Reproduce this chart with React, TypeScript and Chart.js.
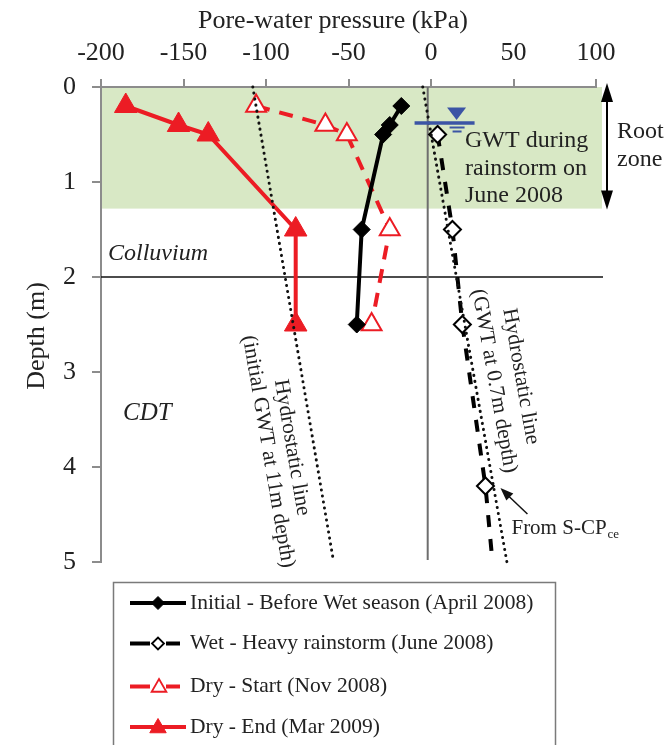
import React, { useEffect, useRef } from "react";
import { Chart, registerables } from "chart.js";

Chart.register(...registerables);

const FONT = "'Liberation Serif', 'Times New Roman', serif";
const TEXT = "#222";
const AXIS = "#8c8c8c";
const RED = "#ec1c24";
const BLUE = "#3b54a5";
const GREEN = "#d8e8c5";

// Axis ticks
const pressureTicks = [-200, -150, -100, -50, 0, 50, 100];
const depthTicks = [0, 1, 2, 3, 4, 5];

// Measured pore-water pressure profiles (kPa) against depth (m)
const initialDepth = [0.2, 0.4, 0.5, 1.5, 2.5];
const initialPwp = [-18, -25, -29, -42, -45];

const wetDepth = [0.5, 1.5, 2.5, 4.2, 4.95];
const wetPwp = [4, 13, 19, 33, 37];

const dryStartDepth = [0.2, 0.4, 0.5, 1.5, 2.5];
const dryStartPwp = [-106, -64, -51, -25, -36];

const dryEndDepth = [0.2, 0.4, 0.5, 1.5, 2.5];
const dryEndPwp = [-185, -153, -135, -82, -82];

// Hydrostatic reference lines
const hydroInitialDepth = [0, 5];
const hydroInitialPwp = [-108, -59];
const hydroWetDepth = [0, 5];
const hydroWetPwp = [-5, 46];

// Soil profile
const rootZoneBottom = 1.28;
const colluviumBase = 2;
const zeroLineKpa = -2;
const gwtKpa = 15.5;
const gwtDepth = 0.38;

const legendLabels = [
  "Initial - Before Wet season (April 2008)",
  "Wet - Heavy rainstorm (June 2008)",
  "Dry - Start (Nov 2008)",
  "Dry - End (Mar 2009)",
];

const pts = (xs: number[], ys: number[]) => xs.map((x, i) => ({ x, y: ys[i] }));

function diamond(ctx: CanvasRenderingContext2D, x: number, y: number, r: number, fill: string, stroke: string, lw: number) {
  ctx.beginPath();
  ctx.moveTo(x - r, y);
  ctx.lineTo(x, y - r);
  ctx.lineTo(x + r, y);
  ctx.lineTo(x, y + r);
  ctx.closePath();
  ctx.fillStyle = fill;
  ctx.fill();
  ctx.lineWidth = lw;
  ctx.strokeStyle = stroke;
  ctx.setLineDash([]);
  ctx.stroke();
}

function triangle(ctx: CanvasRenderingContext2D, x: number, y: number, r: number, fill: string, stroke: string, lw: number) {
  ctx.beginPath();
  for (let k = 0; k < 3; k++) {
    const a = (k * 2 * Math.PI) / 3;
    const px = x + Math.sin(a) * r;
    const py = y - Math.cos(a) * r;
    if (k === 0) ctx.moveTo(px, py);
    else ctx.lineTo(px, py);
  }
  ctx.closePath();
  ctx.fillStyle = fill;
  ctx.fill();
  ctx.lineWidth = lw;
  ctx.strokeStyle = stroke;
  ctx.setLineDash([]);
  ctx.stroke();
}

function arrowHead(ctx: CanvasRenderingContext2D, tipX: number, tipY: number, fromX: number, fromY: number, len: number, half: number) {
  const a = Math.atan2(tipY - fromY, tipX - fromX);
  ctx.beginPath();
  ctx.moveTo(tipX, tipY);
  ctx.lineTo(tipX - len * Math.cos(a) + half * Math.sin(a), tipY - len * Math.sin(a) - half * Math.cos(a));
  ctx.lineTo(tipX - len * Math.cos(a) - half * Math.sin(a), tipY - len * Math.sin(a) + half * Math.cos(a));
  ctx.closePath();
  ctx.fill();
}

const decorPlugin = {
  id: "profileDecor",
  beforeDraw(chart: any) {
    const { ctx, chartArea: ca, scales } = chart;
    const yTop = scales.y.getPixelForValue(0);
    const yRoot = scales.y.getPixelForValue(rootZoneBottom);
    ctx.save();
    ctx.fillStyle = GREEN;
    ctx.fillRect(ca.left, yTop, ca.right - ca.left + 6, yRoot - yTop);
    ctx.restore();
  },
  beforeDatasetsDraw(chart: any) {
    const { ctx, chartArea: ca, scales } = chart;
    ctx.save();
    // colluvium / CDT boundary
    const yB = scales.y.getPixelForValue(colluviumBase);
    ctx.strokeStyle = "#111";
    ctx.lineWidth = 1.5;
    ctx.beginPath();
    ctx.moveTo(ca.left, yB);
    ctx.lineTo(ca.right + 7, yB);
    ctx.stroke();
    // zero-pressure line
    const x0 = scales.x.getPixelForValue(zeroLineKpa);
    ctx.strokeStyle = "#6e6e6e";
    ctx.lineWidth = 2;
    ctx.beginPath();
    ctx.moveTo(x0, ca.top);
    ctx.lineTo(x0, ca.bottom - 2);
    ctx.stroke();
    ctx.restore();
  },
  afterDraw(chart: any) {
    const { ctx, chartArea: ca, scales } = chart;
    const sx = scales.x;
    const sy = scales.y;
    ctx.save();
    ctx.fillStyle = TEXT;
    ctx.textBaseline = "alphabetic";

    // axis titles
    ctx.font = `26px ${FONT}`;
    ctx.textAlign = "left";
    ctx.fillText("Pore-water pressure (kPa)", 198, 28);
    ctx.save();
    ctx.translate(44, 336);
    ctx.rotate(-Math.PI / 2);
    ctx.textAlign = "center";
    ctx.fillText("Depth (m)", 0, 0);
    ctx.restore();

    // layer names
    ctx.font = `italic 24px ${FONT}`;
    ctx.textAlign = "left";
    ctx.textBaseline = "middle";
    ctx.fillText("Colluvium", 108, 254);
    ctx.font = `italic 25px ${FONT}`;
    ctx.fillText("CDT", 123, 413);

    // groundwater table symbol
    const gx = sx.getPixelForValue(gwtKpa);
    const gy = sy.getPixelForValue(gwtDepth);
    ctx.fillStyle = BLUE;
    ctx.strokeStyle = BLUE;
    ctx.beginPath();
    ctx.moveTo(gx - 9.5, gy - 15.5);
    ctx.lineTo(gx + 9.5, gy - 15.5);
    ctx.lineTo(gx, gy - 3);
    ctx.closePath();
    ctx.fill();
    ctx.lineWidth = 3.5;
    ctx.beginPath();
    ctx.moveTo(gx - 42, gy);
    ctx.lineTo(gx + 18, gy);
    ctx.stroke();
    ctx.lineWidth = 2;
    ctx.beginPath();
    ctx.moveTo(gx - 7, gy + 4.5);
    ctx.lineTo(gx + 8, gy + 4.5);
    ctx.moveTo(gx - 4, gy + 8.5);
    ctx.lineTo(gx + 5, gy + 8.5);
    ctx.stroke();

    ctx.fillStyle = TEXT;
    ctx.font = `24px ${FONT}`;
    ctx.textAlign = "left";
    ctx.textBaseline = "middle";
    ctx.fillText("GWT during", 465, 141);
    ctx.fillText("rainstorm on", 465, 168.5);
    ctx.fillText("June 2008", 465, 196);

    // root zone extent
    const ax = ca.right + 11;
    const aTop = sy.getPixelForValue(0) - 4;
    const aBot = sy.getPixelForValue(rootZoneBottom) + 1;
    ctx.fillStyle = "#000";
    ctx.strokeStyle = "#000";
    ctx.lineWidth = 2;
    ctx.beginPath();
    ctx.moveTo(ax, aTop + 10);
    ctx.lineTo(ax, aBot - 10);
    ctx.stroke();
    arrowHead(ctx, ax, aTop, ax, aTop + 20, 19, 6);
    arrowHead(ctx, ax, aBot, ax, aBot - 20, 19, 6);
    ctx.fillStyle = TEXT;
    ctx.font = `24px ${FONT}`;
    ctx.fillText("Root", 617, 132);
    ctx.fillText("zone", 617, 160);

    // labels along the hydrostatic lines
    const along = (xs: number[], ys: number[], t: number, lines: [string, number][]) => {
      const x1 = sx.getPixelForValue(xs[0]);
      const y1 = sy.getPixelForValue(ys[0]);
      const x2 = sx.getPixelForValue(xs[1]);
      const y2 = sy.getPixelForValue(ys[1]);
      ctx.save();
      ctx.translate(x1, y1);
      ctx.rotate(Math.atan2(y2 - y1, x2 - x1));
      ctx.textAlign = "center";
      ctx.textBaseline = "middle";
      ctx.font = `21.5px ${FONT}`;
      lines.forEach(([s, off]) => ctx.fillText(s, t, off));
      ctx.restore();
    };
    along(hydroInitialPwp, hydroInitialDepth, 362, [
      ["Hydrostatic line", 22],
      ["(initial GWT at 11m depth)", 46],
    ]);
    along(hydroWetPwp, hydroWetDepth, 302, [
      ["Hydrostatic line", -46],
      ["(GWT at 0.7m depth)", -19],
    ]);

    // source note for the deepest wet-season reading
    const px = sx.getPixelForValue(wetPwp[3]);
    const py = sy.getPixelForValue(wetDepth[3]);
    ctx.fillStyle = "#111";
    ctx.strokeStyle = "#111";
    ctx.lineWidth = 1.5;
    ctx.beginPath();
    ctx.moveTo(px + 42, py + 28);
    ctx.lineTo(px + 22, py + 9);
    ctx.stroke();
    arrowHead(ctx, px + 15, py + 2, px + 42, py + 28, 13, 5);
    ctx.fillStyle = TEXT;
    ctx.textAlign = "left";
    ctx.textBaseline = "alphabetic";
    ctx.font = `21px ${FONT}`;
    const main = "From S-CP";
    ctx.fillText(main, px + 26, py + 48);
    const w = ctx.measureText(main).width;
    ctx.font = `13px ${FONT}`;
    ctx.fillText("ce", px + 26 + w + 1, py + 52);

    // legend
    ctx.strokeStyle = "#7a7a7a";
    ctx.lineWidth = 1.5;
    ctx.setLineDash([]);
    ctx.strokeRect(113.5, 582.5, 442, 220);
    const rows = [603, 643.5, 686.5, 727];
    const lx0 = 130;
    const lx1 = 186;
    const mx = 158;
    rows.forEach((ry, i) => {
      const solid = i === 0 || i === 3;
      const col = i < 2 ? "#000" : RED;
      ctx.strokeStyle = col;
      ctx.lineWidth = 4;
      ctx.beginPath();
      if (solid) {
        ctx.moveTo(lx0, ry);
        ctx.lineTo(lx1, ry);
      } else {
        ctx.moveTo(lx0, ry);
        ctx.lineTo(lx0 + 20, ry);
        ctx.moveTo(lx0 + 36, ry);
        ctx.lineTo(lx0 + 50, ry);
      }
      ctx.stroke();
      if (i === 0) diamond(ctx, mx, ry, 6.5, "#000", "#000", 1);
      if (i === 1) diamond(ctx, mx, ry, 6, "#fff", "#000", 1.8);
      if (i === 2) triangle(ctx, mx + 1, ry + 1, 8.5, "#fff", RED, 1.8);
      if (i === 3) triangle(ctx, mx, ry + 1, 9.5, RED, RED, 1);
      ctx.fillStyle = TEXT;
      ctx.font = `21.5px ${FONT}`;
      ctx.textAlign = "left";
      ctx.textBaseline = "middle";
      ctx.fillText(legendLabels[i], 190, ry);
    });
    ctx.restore();
  },
};

export default function App() {
  const ref = useRef<HTMLCanvasElement | null>(null);

  useEffect(() => {
    const canvas = ref.current;
    if (!canvas) return;
    const tickFont = { family: FONT, size: 26 };
    const chart = new Chart(canvas, {
      type: "scatter",
      data: {
        datasets: [
          {
            label: "Hydrostatic line (initial GWT at 11m depth)",
            data: pts(hydroInitialPwp, hydroInitialDepth),
            showLine: true,
            borderColor: "#111",
            borderWidth: 3,
            borderDash: [0.1, 6],
            borderCapStyle: "round",
            pointRadius: 0,
            clip: false,
          },
          {
            label: "Hydrostatic line (GWT at 0.7m depth)",
            data: pts(hydroWetPwp, hydroWetDepth),
            showLine: true,
            borderColor: "#111",
            borderWidth: 3,
            borderDash: [0.1, 6],
            borderCapStyle: "round",
            pointRadius: 0,
            clip: false,
          },
          {
            label: legendLabels[0],
            data: pts(initialPwp, initialDepth),
            showLine: true,
            borderColor: "#000",
            borderWidth: 4,
            pointStyle: "rectRot",
            pointRadius: 8.5,
            pointBackgroundColor: "#000",
            pointBorderColor: "#000",
            pointBorderWidth: 1,
            clip: false,
          },
          {
            label: legendLabels[1],
            data: pts(wetPwp, wetDepth),
            showLine: true,
            borderColor: "#000",
            borderWidth: 4,
            borderDash: [12, 12],
            pointStyle: "rectRot",
            pointRadius: [8.5, 8.5, 8.5, 8.5, 0],
            pointBackgroundColor: "#fff",
            pointBorderColor: "#000",
            pointBorderWidth: 2,
            clip: false,
          },
          {
            label: legendLabels[2],
            data: pts(dryStartPwp, dryStartDepth),
            showLine: true,
            borderColor: RED,
            borderWidth: 4,
            borderDash: [14, 10],
            pointStyle: "triangle",
            pointRadius: 11.5,
            pointBackgroundColor: "#fff",
            pointBorderColor: RED,
            pointBorderWidth: 2,
            clip: false,
          },
          {
            label: legendLabels[3],
            data: pts(dryEndPwp, dryEndDepth),
            showLine: true,
            borderColor: RED,
            borderWidth: 4,
            pointStyle: "triangle",
            pointRadius: 13,
            pointBackgroundColor: RED,
            pointBorderColor: RED,
            pointBorderWidth: 1,
            clip: false,
          },
        ],
      },
      options: {
        responsive: false,
        animation: false,
        devicePixelRatio: 1,
        layout: { padding: { left: 0, right: 73, top: 0, bottom: 183 } },
        plugins: {
          legend: { display: false },
          tooltip: { enabled: false },
        },
        scales: {
          x: {
            type: "linear",
            position: "top",
            min: -200,
            max: 100,
            afterBuildTicks: (s: any) => {
              s.ticks = pressureTicks.map((v) => ({ value: v }));
            },
            afterFit: (s: any) => {
              s.height = 87;
            },
            ticks: { font: tickFont, color: TEXT, padding: 10, maxRotation: 0, autoSkip: false },
            grid: { drawOnChartArea: false, drawTicks: true, tickLength: 8, color: AXIS, lineWidth: 2 },
            border: { display: true, color: AXIS, width: 2 },
          },
          y: {
            type: "linear",
            position: "left",
            reverse: true,
            min: 0,
            max: 5,
            afterBuildTicks: (s: any) => {
              s.ticks = depthTicks.map((v) => ({ value: v }));
            },
            afterFit: (s: any) => {
              s.width = 101;
            },
            ticks: { font: tickFont, color: TEXT, padding: 16, autoSkip: false },
            grid: { drawOnChartArea: false, drawTicks: true, tickLength: 9, color: AXIS, lineWidth: 2 },
            border: { display: true, color: AXIS, width: 2 },
          },
        },
      } as any,
      plugins: [decorPlugin],
    });
    return () => chart.destroy();
  }, []);

  return (
    <div style={{ position: "fixed", left: 0, top: 0, width: 669, height: 745, background: "#fff" }}>
      <canvas ref={ref} width={669} height={745} style={{ display: "block", width: 669, height: 745 }} />
    </div>
  );
}
